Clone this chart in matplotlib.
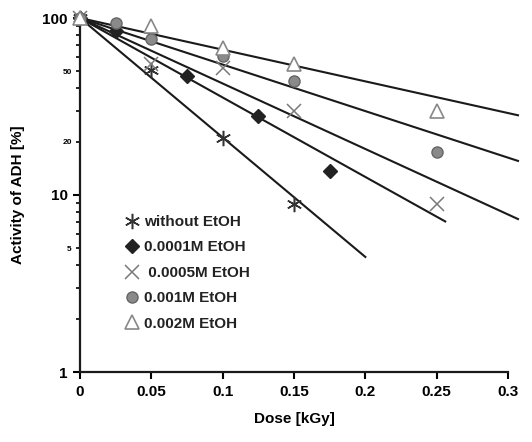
import matplotlib
matplotlib.use("Agg")
import matplotlib.pyplot as plt
import numpy as np
from matplotlib.ticker import FixedLocator, FixedFormatter

plt.rcParams["font.family"] = ["Liberation Sans", "DejaVu Sans"]
plt.rcParams["font.weight"] = "bold"

# measured activity (%) vs dose (kGy)
dose_none = [0, 0.05, 0.1, 0.15]
act_none = [100, 51, 21, 8.9]
dose_0001 = [0, 0.025, 0.075, 0.125, 0.175]
act_0001 = [100, 84, 47, 28, 13.6]
dose_0005 = [0, 0.05, 0.1, 0.15, 0.25]
act_0005 = [100, 55, 52, 30, 8.9]
dose_001 = [0, 0.025, 0.05, 0.1, 0.15, 0.25]
act_001 = [100, 94, 76, 61, 44, 17.5]
dose_002 = [0, 0.05, 0.1, 0.15, 0.25]
act_002 = [100, 90, 68, 55, 30]

# exponential fits: log10 decrease per kGy and end of fitted range
fit_slope = [6.75, 4.49, 3.70, 2.63, 1.79]
fit_end = [0.2, 0.256, 0.307, 0.307, 0.307]

labels = ["without EtOH", "0.0001M EtOH", " 0.0005M EtOH",
          "0.001M EtOH", "0.002M EtOH"]

x_ticks = [0, 0.05, 0.1, 0.15, 0.2, 0.25, 0.3]
x_ticklabels = ["0", "0.05", "0.1", "0.15", "0.2", "0.25", "0.3"]
y_major = [1, 10, 100]
y_small = [5, 20, 50]

fig = plt.figure(figsize=(5.32, 4.42), dpi=100)
ax = fig.add_axes([80 / 532, 70 / 442, 428 / 532, 354 / 442])

for k, end in zip(fit_slope, fit_end):
    d = np.linspace(0, end, 50)
    ax.plot(d, 100 * 10 ** (-k * d), color="#1a1a1a", lw=1.5,
            clip_on=False, zorder=2)

styles = [
    dict(marker=(6, 2, 0), color="#333333", ms=11, mew=1.1),
    dict(marker="D", color="#222222", ms=7.5, mec="#222222"),
    dict(marker="x", color="#7a7a7a", ms=10, mew=1.1),
    dict(marker="o", color="#8a8a8a", ms=8, mec="#666666", mew=1),
    dict(marker="^", color="white", ms=10, mec="#888888", mew=1.2),
]
series = [(dose_none, act_none), (dose_0001, act_0001),
          (dose_0005, act_0005), (dose_001, act_001), (dose_002, act_002)]
handles = []
for (d, a), st, lab in zip(series, styles, labels):
    kw = dict(st)
    color = kw.pop("color")
    if "mec" not in kw:
        kw["mec"] = color
    h, = ax.plot(d, a, linestyle="none", mfc=color, label=lab,
                 clip_on=False, zorder=3, **kw)
    handles.append(h)

ax.set_yscale("log")
ax.set_xlim(0, 0.3)
ax.set_ylim(1, 100)

ax.xaxis.set_major_locator(FixedLocator(x_ticks))
ax.xaxis.set_major_formatter(FixedFormatter(x_ticklabels))
ax.yaxis.set_major_locator(FixedLocator(y_major))
ax.yaxis.set_major_formatter(FixedFormatter([str(v) for v in y_major]))
minors = [m * 10 ** e for e in (0, 1) for m in range(2, 10)]
ax.yaxis.set_minor_locator(FixedLocator(minors))
ax.yaxis.set_minor_formatter(FixedFormatter(
    [str(v) if v in y_small else "" for v in minors]))

ax.tick_params(axis="x", which="major", direction="out", length=5,
               width=1.5, pad=4, labelsize=11)
ax.tick_params(axis="y", which="major", direction="out", length=5,
               width=1.5, pad=4, labelsize=11)
ax.tick_params(axis="y", which="minor", direction="out", length=3,
               width=1.2, pad=3, labelsize=6)

for side in ("top", "right"):
    ax.spines[side].set_visible(False)
for side in ("left", "bottom"):
    ax.spines[side].set_linewidth(1.6)
    ax.spines[side].set_color("#1a1a1a")

ax.set_xlabel("Dose [kGy]", fontsize=11, fontweight="bold", labelpad=10)
ax.set_ylabel("Activity of ADH [%]", fontsize=11, fontweight="bold",
              labelpad=12)

leg = ax.legend(handles=handles, loc="upper left",
                bbox_to_anchor=(126 / 532, (442 - 215) / 442),
                bbox_transform=fig.transFigure, frameon=False,
                fontsize=11, handlelength=0.8, handletextpad=0.4,
                labelspacing=0.75, borderpad=0, borderaxespad=0)
for t in leg.get_texts():
    t.set_color("#222222")

fig.savefig("out.png", dpi=100)
